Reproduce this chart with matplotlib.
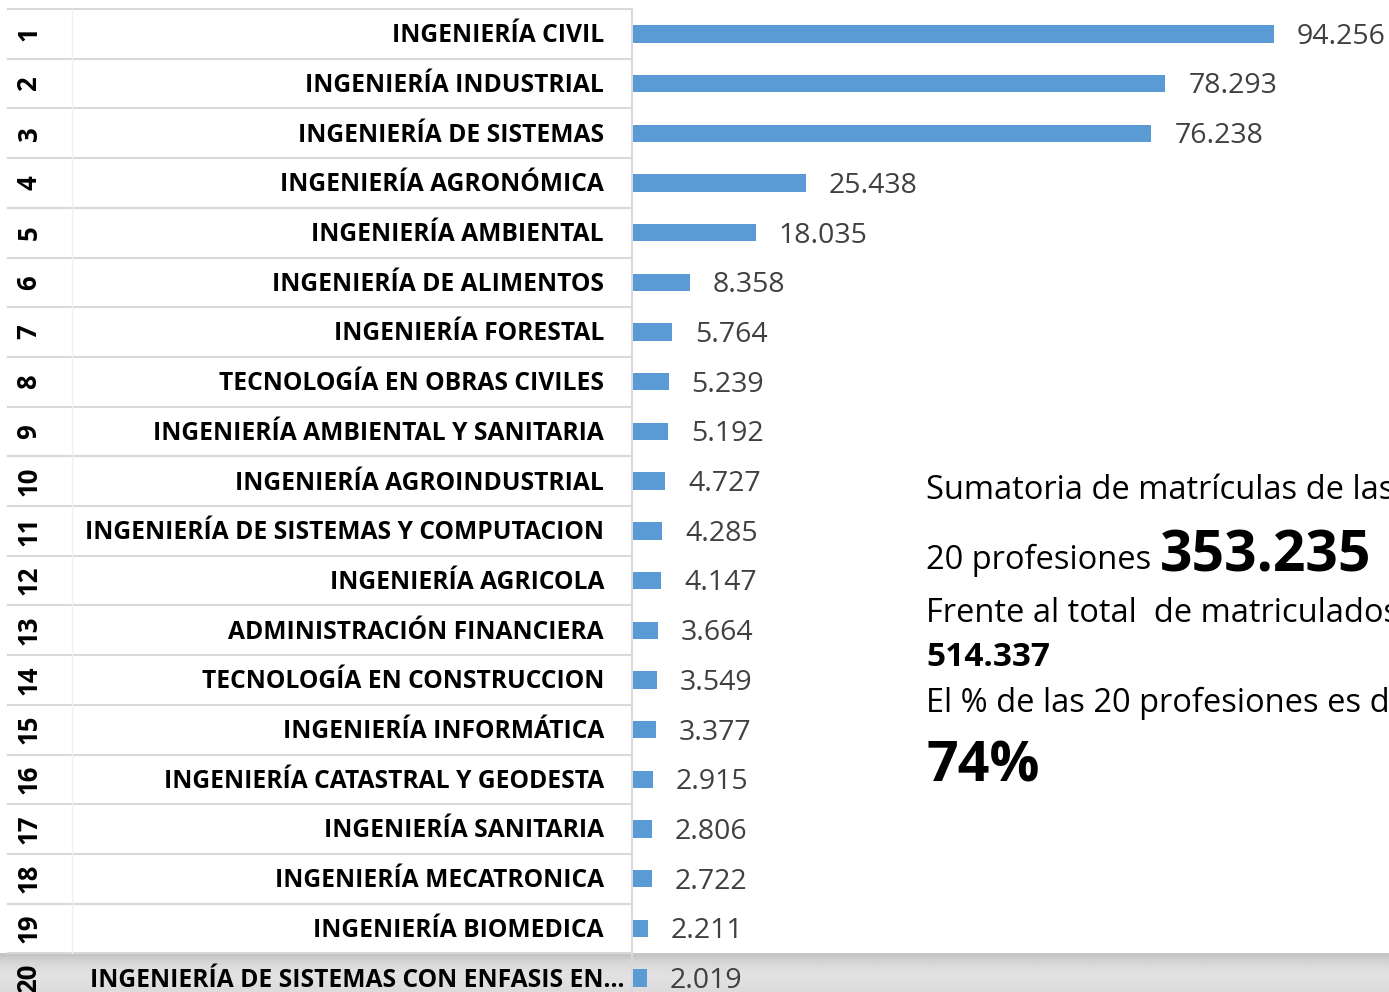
"""
Top 20 professions by enrollment - horizontal bar chart with label table
"""
import numpy as np
import matplotlib
matplotlib.use('Agg')
import matplotlib.pyplot as plt

plt.rcParams['font.family'] = ['Open Sans', 'DejaVu Sans']

# data
ranks = [str(i) for i in range(1, 21)]
programs = [
    'INGENIERÍA CIVIL',
    'INGENIERÍA INDUSTRIAL',
    'INGENIERÍA DE SISTEMAS',
    'INGENIERÍA AGRONÓMICA',
    'INGENIERÍA AMBIENTAL',
    'INGENIERÍA DE ALIMENTOS',
    'INGENIERÍA FORESTAL',
    'TECNOLOGÍA EN OBRAS CIVILES',
    'INGENIERÍA AMBIENTAL Y SANITARIA',
    'INGENIERÍA AGROINDUSTRIAL',
    'INGENIERÍA DE SISTEMAS Y COMPUTACION',
    'INGENIERÍA AGRICOLA',
    'ADMINISTRACIÓN FINANCIERA',
    'TECNOLOGÍA EN CONSTRUCCION',
    'INGENIERÍA INFORMÁTICA',
    'INGENIERÍA CATASTRAL Y GEODESTA',
    'INGENIERÍA SANITARIA',
    'INGENIERÍA MECATRONICA',
    'INGENIERÍA BIOMEDICA',
    'INGENIERÍA DE SISTEMAS CON ENFASIS EN…',
]
enrolled = [94256, 78293, 76238, 25438, 18035, 8358, 5764, 5239, 5192, 4727,
            4285, 4147, 3664, 3549, 3377, 2915, 2806, 2722, 2211, 2019]

total_top20 = '353.235'
total_all = '514.337'
share = '74%'

W, H = 1389, 992
fig = plt.figure(figsize=(W / 100, H / 100), dpi=100)

row_px = 49.7
top_px = 9
y_top = -0.5 - top_px / row_px
y_bot = -0.5 + (H - top_px) / row_px
last = len(programs) - 1

# gray "selected row" band behind the last row
band_px = H - (top_px + row_px * len(programs[:-1]))
ax_band = fig.add_axes([0, 0, 1, band_px / H], zorder=0)
grad = np.array([0.77, 0.82, 0.85, 0.87, 0.88, 0.88, 0.87, 0.86])[:, None]
ax_band.imshow(grad, cmap='gray', vmin=0, vmax=1, aspect='auto',
               extent=[0, 1, 0, 1], interpolation='bilinear')
ax_band.axis('off')

split_px = 633
ax_lab = fig.add_axes([0, 0, split_px / W, 1], zorder=1)
ax = fig.add_axes([split_px / W, 0, (W - split_px) / W, 1], zorder=1)

y = np.arange(len(programs))
grid_c = '#d9d9d9'

# label table
ax_lab.set_xlim(0, split_px)
ax_lab.set_ylim(y_bot, y_top)
ax_lab.axis('off')
for b in np.arange(-0.5, len(programs), 1.0):
    ax_lab.plot([8, split_px - 1], [b, b], color=grid_c, lw=1.5, zorder=1)
ax_lab.plot([72, 72], [y_top + 0.18, last - 0.5], color='#f0f0f0', lw=1.0)
ax_lab.plot([split_px - 1, split_px - 1], [-0.5, y_bot], color=grid_c, lw=1.5)
for i, (r, p) in enumerate(zip(ranks, programs)):
    ax_lab.text(29, i, r, rotation=90, ha='center', va='center',
                fontsize=18.5, fontweight='bold', color='black')
    xr = 625 if i == last else 604
    ax_lab.text(xr, i + 0.17, p, ha='right', va='baseline', fontsize=17.7,
                fontweight='bold', color='black')

# bars
ax.set_ylim(y_bot, y_top)
ax.set_xlim(0, (W - split_px) / 0.0068)
ax.axis('off')
ax.barh(y, enrolled, height=0.35, color='#5b9bd5', zorder=2)
for i, v in enumerate(enrolled):
    lbl = f'{v:,}'.replace(',', '.')
    ax.annotate(lbl, (v, i + 0.2), xytext=(16.5, 0), textcoords='offset points',
                ha='left', va='baseline', fontsize=20.5, color='#404040')

# summary text block
tx = 926 / W
def fy(px):
    return 1 - px / H

fig.text(tx, fy(491), 'Sumatoria de matrículas de las', fontsize=23.5,
         va='center', ha='left')
fig.text(tx, fy(560), '20 profesiones', fontsize=23.5, va='center', ha='left')
fig.text(1160 / W, fy(556), total_top20, fontsize=41, fontweight='bold',
         va='center', ha='left')
fig.text(tx, fy(613), 'Frente al total  de matriculados', fontsize=23.5,
         va='center', ha='left')
fig.text(tx, fy(658), total_all, fontsize=24, fontweight='bold',
         va='center', ha='left')
fig.text(tx, fy(703), 'El % de las 20 profesiones es de', fontsize=23.5,
         va='center', ha='left')
fig.text(tx, fy(767), share, fontsize=40, fontweight='bold',
         va='center', ha='left')

fig.savefig('out.png', dpi=100)
